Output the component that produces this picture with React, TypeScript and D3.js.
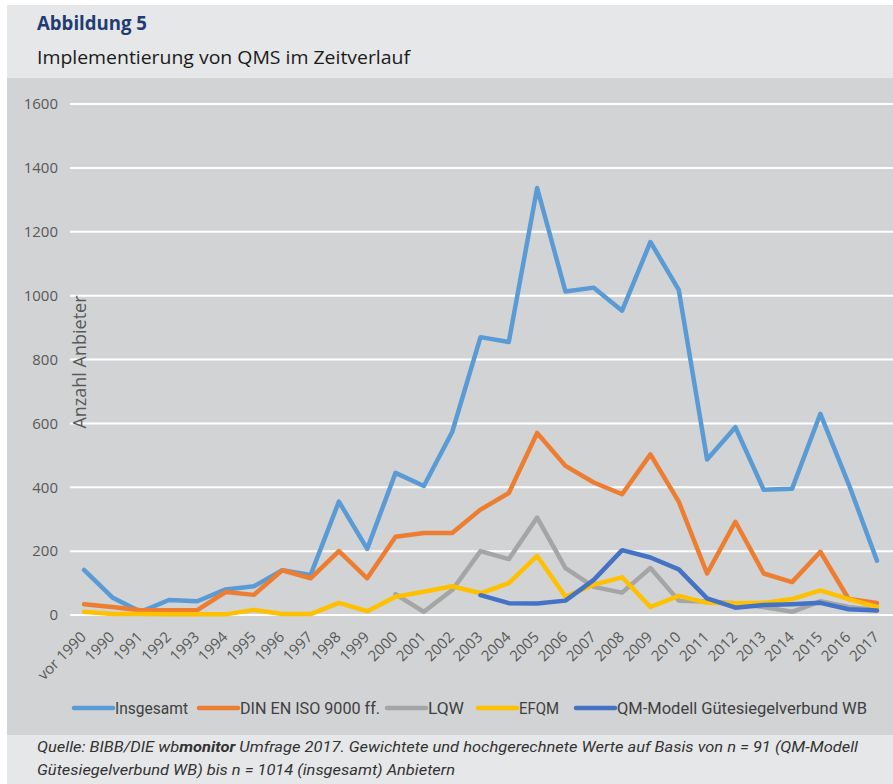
import React from "react";
import * as d3 from "d3";

const categories = ["vor 1990", "1990", "1991", "1992", "1993", "1994", "1995", "1996", "1997", "1998", "1999", "2000", "2001", "2002", "2003", "2004", "2005", "2006", "2007", "2008", "2009", "2010", "2011", "2012", "2013", "2014", "2015", "2016", "2017"];

const insgesamt = [141, 55, 10, 47, 43, 80, 90, 140, 125, 355, 207, 445, 404, 573, 870, 855, 1337, 1013, 1025, 953, 1168, 1018, 487, 588, 392, 395, 630, 410, 170];
const din = [34, 25, 15, 15, 15, 72, 63, 140, 115, 200, 115, 245, 257, 257, 330, 382, 570, 467, 415, 378, 503, 355, 130, 292, 130, 103, 198, 50, 38];
const lqw = [null, null, null, null, null, null, null, null, null, null, null, 65, 10, 78, 200, 175, 305, 147, 88, 70, 147, 45, 42, 37, 25, 10, 43, 25, 15];
const efqm = [10, 3, 3, 2, 2, 2, 16, 3, 3, 38, 12, 57, 73, 90, 68, 100, 185, 57, 95, 118, 25, 60, 38, 37, 38, 50, 77, 50, 25];
const qm = [null, null, null, null, null, null, null, null, null, null, null, null, null, null, 62, 37, 36, 45, 110, 203, 180, 143, 52, 23, 31, 34, 38, 18, 14];

const seriesNames = ["Insgesamt", "DIN EN ISO 9000 ff.", "LQW", "EFQM", "QM-Modell Gütesiegelverbund WB"];
const seriesColors = ["#5b9bd5", "#ed7d31", "#a5a5a5", "#ffc000", "#4472c4"];
const yTicks = [0, 200, 400, 600, 800, 1000, 1200, 1400, 1600];

export default function App() {
  const W = 893, H = 784;
  const x = d3.scalePoint<string>().domain(categories).range([84, 877]);
  const y = d3.scaleLinear().domain([0, 1600]).range([615, 104]);
  const allSeries = [insgesamt, din, lqw, efqm, qm];
  const line = d3
    .line<number | null>()
    .defined((d) => d !== null)
    .x((_, i) => x(categories[i]) as number)
    .y((d) => y(d as number));

  const legendX = [74, 199, 387, 478, 576];
  const legendW = [73, 140, 36, 40, 250];
  const labelFont = "'Open Sans', sans-serif";

  return (
    <svg width={W} height={H} style={{ position: "absolute", left: 0, top: 0, display: "block" }}>
      <rect x={0} y={0} width={W} height={H} fill="#ffffff" />
      <rect x={7} y={5} width={W - 7} height={73} fill="#e6e7e8" />
      <rect x={7} y={78} width={W - 7} height={657} fill="#d1d3d4" />
      <rect x={7} y={735} width={W - 7} height={49} fill="#e6e7e8" />

      <text x={37} y={30} fontFamily="'Open Sans', sans-serif" fontWeight={700} fontSize={19} fill="#1f3d73" textLength={110} lengthAdjust="spacingAndGlyphs">Abbildung 5</text>
      <text x={37} y={64} fontFamily="'Open Sans', sans-serif" fontSize={19} fill="#1a1a1a" textLength={373} lengthAdjust="spacingAndGlyphs">Implementierung von QMS im Zeitverlauf</text>

      {yTicks.map((t) => (
        <g key={t}>
          <line x1={70} x2={W} y1={y(t)} y2={y(t)} stroke="#ffffff" strokeWidth={2} />
          <text x={58} y={y(t)} dy="0.35em" textAnchor="end" fontFamily={labelFont} fontSize={15} fill="#595959">{t}</text>
        </g>
      ))}

      <text transform="translate(86,362) rotate(-90)" textAnchor="middle" fontFamily={labelFont} fontSize={18} fill="#595959">Anzahl Anbieter</text>

      {categories.map((c) => (
        <text key={c} transform={`translate(${(x(c) as number) + 3},638) rotate(-45)`} textAnchor="end" fontFamily={labelFont} fontSize={15} fill="#595959">{c}</text>
      ))}

      {allSeries.map((s, i) => (
        <path key={i} d={line(s) || ""} fill="none" stroke={seriesColors[i]} strokeWidth={4.5} strokeLinejoin="round" strokeLinecap="round" />
      ))}

      {seriesNames.map((n, i) => (
        <g key={n}>
          <line x1={legendX[i]} x2={legendX[i] + 39} y1={708} y2={708} stroke={seriesColors[i]} strokeWidth={4.5} strokeLinecap="round" />
          <text x={legendX[i] + 41} y={708} dy="0.35em" fontFamily="'Roboto', sans-serif" fontSize={16} fill="#404040" textLength={legendW[i]} lengthAdjust="spacingAndGlyphs">{n}</text>
        </g>
      ))}

      <text x={37} y={752} fontFamily="'Roboto', sans-serif" fontStyle="italic" fontSize={15} fill="#333333" textLength={821} lengthAdjust="spacingAndGlyphs">
        Quelle: BIBB/DIE wb<tspan fontWeight={700}>monitor</tspan> Umfrage 2017. Gewichtete und hochgerechnete Werte auf Basis von n = 91 (QM-Modell
      </text>
      <text x={37} y={775} fontFamily="'Roboto', sans-serif" fontStyle="italic" fontSize={15} fill="#333333" textLength={418} lengthAdjust="spacingAndGlyphs">
        Gütesiegelverbund WB) bis n = 1014 (insgesamt) Anbietern
      </text>
    </svg>
  );
}
